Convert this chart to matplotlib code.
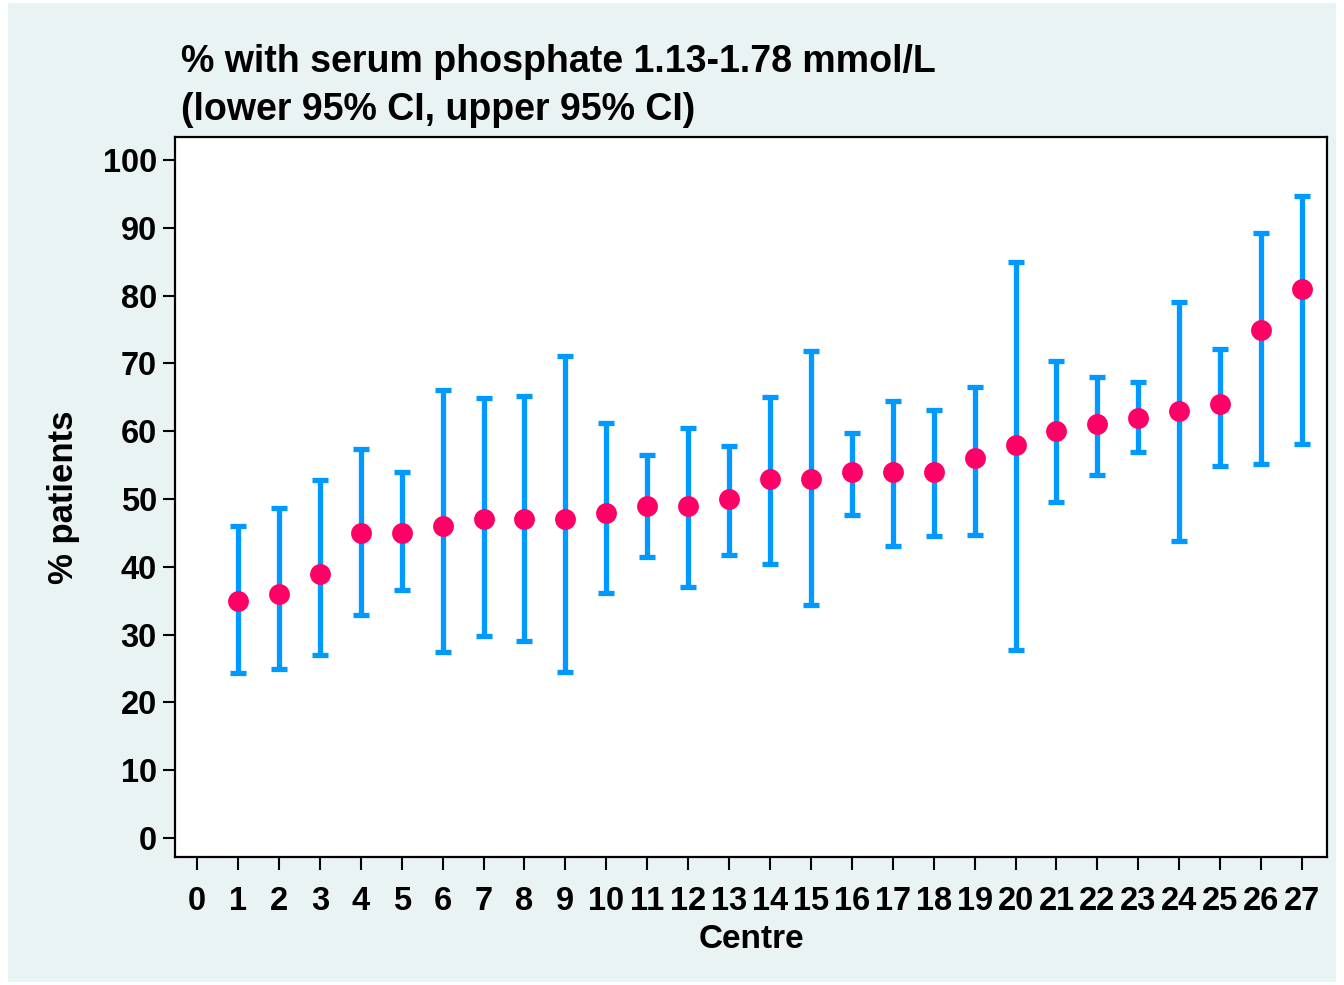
import numpy as np
import matplotlib
matplotlib.use("Agg")
import matplotlib.pyplot as plt
from matplotlib.patches import Rectangle

# percentage with serum phosphate in range, by centre, with 95% CI
centre = list(range(1, 28))
pct = [35, 36, 39, 45, 45, 46, 47, 47, 47, 48, 49, 49, 50, 53, 53,
       54, 54, 54, 56, 58, 60, 61, 62, 63, 64, 75, 81]
lower = [24.3, 24.9, 27.0, 32.9, 36.6, 27.5, 29.8, 29.1, 24.5, 36.1, 41.4, 37.0, 41.7, 40.4, 34.3,
         47.6, 43.1, 44.5, 44.7, 27.7, 49.6, 53.6, 57.0, 43.8, 54.8, 55.2, 58.1]
upper = [46.0, 48.7, 52.8, 57.4, 54.0, 66.1, 64.9, 65.2, 71.1, 61.2, 56.5, 60.5, 57.8, 65.1, 71.8,
         59.8, 64.5, 63.1, 66.5, 85.0, 70.3, 68.0, 67.2, 79.0, 72.1, 89.3, 94.7]
title_lines = ['% with serum phosphate 1.13-1.78 mmol/L', '(lower 95% CI, upper 95% CI)']

plt.rcParams['font.family'] = ['Liberation Sans', 'DejaVu Sans']
plt.rcParams['font.weight'] = 'bold'

W, H = 1344, 985
fig = plt.figure(figsize=(W / 100, H / 100), dpi=100, facecolor='white')
# light panel behind everything
fig.patches.append(Rectangle((8 / W, 3 / H), 1328 / W, 979 / H, transform=fig.transFigure,
                             facecolor='#eaf3f4', edgecolor='none', zorder=-10))

ax = fig.add_axes([175 / W, 1 - 857 / H, (1327 - 175) / W, (857 - 137) / H])
ax.set_facecolor('white')

x = np.array(centre)
y = np.array(pct)
yerr = [y - np.array(lower), np.array(upper) - y]
ax.errorbar(x, y, yerr=yerr, fmt='none', ecolor='#0099ff', elinewidth=3.8,
            capsize=6, capthick=3.8, zorder=2)
ax.plot(x, y, 'o', color='#ff0066', markersize=15, markeredgewidth=0, zorder=3)

ax.set_xlim(-0.54, 27.61)
ax.set_ylim(-2.8, 103.4)
ax.set_xticks(range(0, 28))
ax.set_yticks(range(0, 101, 10))
ax.tick_params(axis='both', labelsize=23.5, width=1.5, length=9, pad=4)
ax.tick_params(axis='x', pad=12)
for lab in ax.get_xticklabels() + ax.get_yticklabels():
    lab.set_fontweight('bold')
for s in ax.spines.values():
    s.set_linewidth(1.6)

ax.set_xlabel('Centre', fontsize=24, fontweight='bold', labelpad=5)
ax.set_ylabel('% patients', fontsize=25, fontweight='bold', labelpad=16)

for i, line in enumerate(title_lines):
    fig.text(181 / W, 1 - (62 + 48 * i) / H, line, fontsize=27, fontweight='bold',
             ha='left', va='center')

fig.savefig('out.png', dpi=100, facecolor=fig.get_facecolor())
